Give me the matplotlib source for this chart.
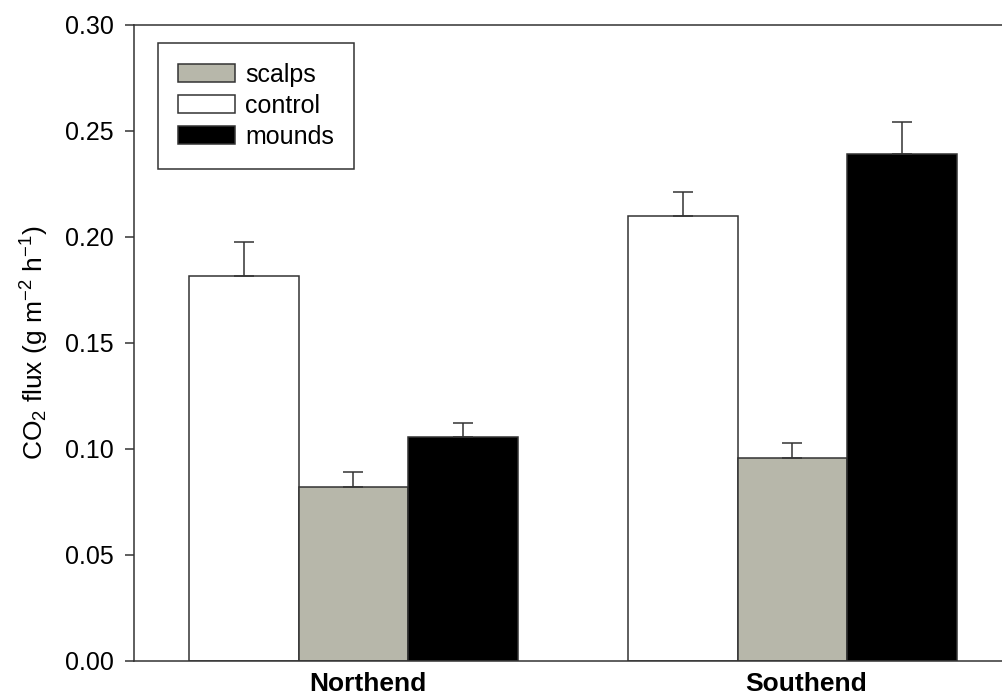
import matplotlib as mpl
mpl.use("Agg")
import matplotlib.pyplot as plt
import matplotlib.transforms as mtrans
import numpy as np

# data
sites = ["Northend", "Southend"]
treatments = ["control", "scalps", "mounds"]
control = [0.1817, 0.2099]
scalps = [0.0822, 0.0959]
mounds = [0.1058, 0.2392]
control_se = [0.0158, 0.0112]
scalps_se = [0.0070, 0.0071]
mounds_se = [0.0066, 0.0150]

plt.rcParams["font.family"] = ["Liberation Sans", "DejaVu Sans"]
plt.rcParams["mathtext.default"] = "regular"

fig = plt.figure(figsize=(10.03, 6.95), dpi=100)
# axes runs a bit past the right edge, like the cropped original
ax = fig.add_axes([134 / 1003, 34 / 695, 878 / 1003, 636 / 695])

x = np.arange(len(sites))
w = 0.25
edge = "#333333"
err_kw = dict(ecolor=edge, elinewidth=1.1, capsize=7, capthick=1.1)

b_ctrl = ax.bar(x - w, control, w, color="white", edgecolor=edge, linewidth=1.1,
                yerr=[[0, 0], control_se], error_kw=err_kw, label="control")
b_scal = ax.bar(x, scalps, w, color="#b7b7aa", edgecolor=edge, linewidth=1.1,
                yerr=[[0, 0], scalps_se], error_kw=err_kw, label="scalps")
b_mnd = ax.bar(x + w, mounds, w, color="black", edgecolor=edge, linewidth=1.1,
               yerr=[[0, 0], mounds_se], error_kw=err_kw, label="mounds")

ax.set_xlim(-0.5, 1.5)
ax.set_ylim(0, 0.30)
ax.set_yticks(np.arange(0, 0.31, 0.05))
ax.set_yticklabels(["%.2f" % v for v in np.arange(0, 0.31, 0.05)], fontsize=18)
ax.set_xticks(x)
ax.set_xticklabels(sites, fontsize=19, fontweight="bold")
ax.tick_params(axis="x", length=0, pad=8)
ax.tick_params(axis="y", direction="out", length=6.5, width=1.1, color=edge, pad=8)
# the site names sit a little right of the group centres in the original
shift = mtrans.ScaledTranslation(14 / 100, 0, fig.dpi_scale_trans)
for lab in ax.get_xticklabels():
    lab.set_transform(lab.get_transform() + shift)
for s in ax.spines.values():
    s.set_color(edge)
    s.set_linewidth(1.1)

ax.set_ylabel("CO$_2$ flux (g m$^{-2}$ h$^{-1}$)", fontsize=19, labelpad=10)

leg = ax.legend([b_scal, b_ctrl, b_mnd], ["scalps", "control", "mounds"],
                loc="upper left", bbox_to_anchor=(24 / 878, 1 - 18 / 636),
                fontsize=18, fancybox=False, edgecolor=edge, framealpha=1,
                handlelength=2.3, handleheight=0.75, borderpad=0.8,
                labelspacing=0.27, handletextpad=0.4, borderaxespad=0)
leg.get_frame().set_linewidth(1.1)

fig.savefig("out.png", dpi=100)
